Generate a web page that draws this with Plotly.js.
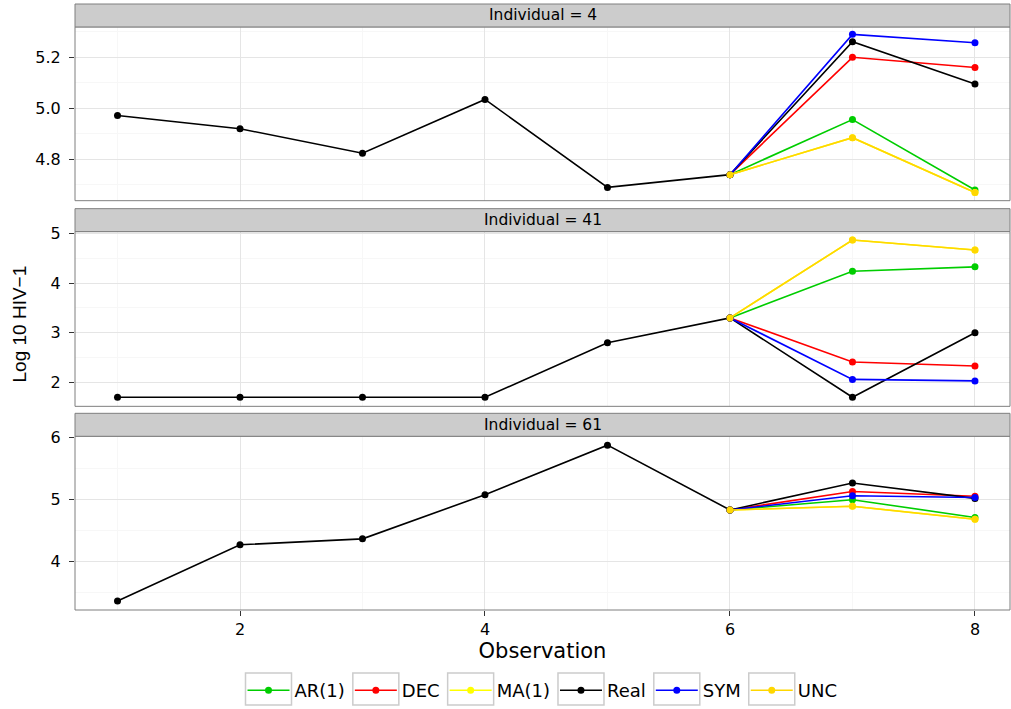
<!DOCTYPE html>
<html>
<head>
<meta charset="utf-8">
<script src="https://cdn.plot.ly/plotly-3.0.1.min.js"></script>
<style>html,body{margin:0;padding:0;background:#fff;}#chart{width:1011px;height:709px;}</style>
</head>
<body>
<div id="chart"></div>
<script>
// ---------------- data ----------------
const observations = [1, 2, 3, 4, 5, 6, 7, 8];
const forecastObs = [6, 7, 8];
const panelLabels = ["Individual = 4", "Individual = 41", "Individual = 61"];
const seriesNames = ["AR(1)", "DEC", "MA(1)", "Real", "SYM", "UNC"];
const seriesColors = ["#00CD00", "#FF0000", "#FFFF00", "#000000", "#0000FF", "#FFD700"];

// Individual 4
const real4 = [4.972, 4.92, 4.824, 5.035, 4.69, 4.74, 5.261, 5.095];
const ar4  = [4.74, 4.956, 4.68];
const dec4 = [4.74, 5.20, 5.16];
const ma4  = [4.74, 4.885, 4.67];
const sym4 = [4.74, 5.29, 5.257];
const unc4 = [4.74, 4.885, 4.67];

// Individual 41
const real41 = [1.70, 1.70, 1.70, 1.70, 2.80, 3.30, 1.70, 3.00];
const ar41  = [3.30, 4.24, 4.33];
const dec41 = [3.30, 2.41, 2.33];
const ma41  = [3.30, 4.87, 4.67];
const sym41 = [3.30, 2.06, 2.03];
const unc41 = [3.30, 4.87, 4.67];

// Individual 61
const real61 = [3.365, 4.27, 4.365, 5.075, 5.873, 4.83, 5.265, 5.016];
const ar61  = [4.83, 4.995, 4.71];
const dec61 = [4.83, 5.127, 5.05];
const ma61  = [4.83, 4.89, 4.68];
const sym61 = [4.83, 5.06, 5.03];
const unc61 = [4.83, 4.89, 4.68];

const yTickVals = [[4.8, 5.0, 5.2], [2, 3, 4, 5], [4, 5, 6]];
const yTickText = [["4.8", "5.0", "5.2"], ["2", "3", "4", "5"], ["4", "5", "6"]];
const xTickVals = [2, 4, 6, 8];

// ---------------- layout geometry (pixels) ----------------
const W = 1011, H = 709;
const M = {l: 75, r: 1, t: 4, b: 98};
const plotH = H - M.t - M.b;
const plotW = W - M.l - M.r;
const py = p => (H - M.b - p) / plotH; // pixel y -> paper fraction
const px = p => (p - M.l) / plotW;     // pixel x -> paper fraction
const panels = [
  {stripTop: 4,   top: 27,  bottom: 201, range: [4.638, 5.319], minor: 0.1},
  {stripTop: 209, top: 232, bottom: 407, range: [1.517, 5.04],  minor: 0.5},
  {stripTop: 414, top: 437, bottom: 611, range: [3.22, 6.016],  minor: 0.5}
];

const panelData = [
  {real: real4, s: [ar4, dec4, ma4, null, sym4, unc4]},
  {real: real41, s: [ar41, dec41, ma41, null, sym41, unc41]},
  {real: real61, s: [ar61, dec61, ma61, null, sym61, unc61]}
];

const traces = [];
panelData.forEach((pd, pi) => {
  const yax = pi === 0 ? 'y' : 'y' + (pi + 1);
  seriesNames.forEach((name, si) => {
    const isReal = name === "Real";
    traces.push({
      type: 'scatter', mode: 'lines+markers',
      x: isReal ? observations : forecastObs,
      y: isReal ? pd.real : pd.s[si],
      xaxis: 'x', yaxis: yax,
      name: name, legendgroup: name, showlegend: pi === 0,
      line: {color: seriesColors[si], width: 1.6},
      marker: {color: seriesColors[si], size: 7},
      hoverinfo: 'x+y+name'
    });
  });
});

const gridMajor = '#E5E5E5', gridMinor = '#F7F7F7', border = '#7F7F7F';
const dejavu = 'DejaVu Sans, sans-serif';
const liber = 'Liberation Sans, Arial, sans-serif';

const layout = {
  width: W, height: H,
  margin: M,
  paper_bgcolor: '#fff', plot_bgcolor: '#fff',
  showlegend: true,
  legend: {
    orientation: 'h', x: 0.5, xanchor: 'center', y: py(691), yanchor: 'middle',
    font: {family: dejavu, size: 18, color: '#000'},
    itemwidth: 42, tracegroupgap: 0, bgcolor: 'rgba(0,0,0,0)'
  },
  xaxis: {
    anchor: 'y3', domain: [0, 1], range: [0.653, 8.286],
    tickvals: xTickVals, ticktext: xTickVals.map(String),
    ticks: 'outside', ticklen: 5, tickwidth: 1, tickcolor: '#333',
    tickfont: {family: dejavu, size: 16, color: '#000'},
    showgrid: true, gridcolor: gridMajor, gridwidth: 1,
    minor: {dtick: 1, tick0: 1, showgrid: true, gridcolor: gridMinor, ticks: ''},
    zeroline: false, showline: false,
    title: {text: 'Observation', standoff: 0, font: {family: dejavu, size: 21, color: '#000'}}
  },
  shapes: [], annotations: []
};

panels.forEach((p, i) => {
  const key = i === 0 ? 'yaxis' : 'yaxis' + (i + 1);
  layout[key] = {
    anchor: 'x', domain: [py(p.bottom), py(p.top)], range: p.range,
    tickvals: yTickVals[i], ticktext: yTickText[i],
    ticks: 'outside', ticklen: 5, tickwidth: 1, tickcolor: '#333',
    tickfont: {family: dejavu, size: 16, color: '#000'}, ticklabelstandoff: 5,
    showgrid: true, gridcolor: gridMajor, gridwidth: 1,
    minor: {dtick: p.minor, showgrid: true, gridcolor: gridMinor, ticks: ''},
    zeroline: false, showline: false
  };
  const yref = (i === 0 ? 'y' : 'y' + (i + 1)) + ' domain';
  layout.shapes.push({type: 'rect', xref: 'x domain', yref: yref, x0: 0, x1: 1, y0: 0, y1: 1,
    line: {color: border, width: 1}, layer: 'above'});
  layout.shapes.push({type: 'rect', xref: 'paper', yref: 'paper', x0: 0, x1: 1,
    y0: py(p.top), y1: py(p.stripTop), fillcolor: '#CCCCCC', line: {color: border, width: 1}, layer: 'above'});
  layout.annotations.push({text: panelLabels[i], xref: 'paper', yref: 'paper', x: 0.5,
    y: (py(p.top) + py(p.stripTop)) / 2, xanchor: 'center', yanchor: 'middle', showarrow: false,
    font: {family: dejavu, size: 15.5, color: '#000'}});
});

layout.annotations.push({text: 'Log 10 HIV\u22121', xref: 'paper', yref: 'paper',
  x: px(19), xanchor: 'center', y: py(325), yanchor: 'middle', textangle: -90, showarrow: false,
  font: {family: liber, size: 19, color: '#000'}});

Plotly.newPlot('chart', traces, layout, {displayModeBar: false, staticPlot: true}).then(gd => {
  // ggplot-style key boxes around each legend symbol
  const root = gd.getBoundingClientRect();
  const boxes = [];
  gd.querySelectorAll('.legend .traces').forEach(tr => {
    const sym = tr.querySelector('.legendlines path') || tr.querySelector('.legendpoints path');
    if (!sym) return;
    const r = sym.getBoundingClientRect();
    const cx = (r.left + r.right) / 2 - root.left;
    const cy = (r.top + r.bottom) / 2 - root.top;
    boxes.push({type: 'rect', xref: 'paper', yref: 'paper',
      x0: px(cx - 23), x1: px(cx + 23), y0: py(cy + 16), y1: py(cy - 16),
      line: {color: '#CCCCCC', width: 1.5}, fillcolor: 'rgba(0,0,0,0)', layer: 'below'});
  });
  Plotly.relayout(gd, {shapes: layout.shapes.concat(boxes)});
});
</script>
</body>
</html>
